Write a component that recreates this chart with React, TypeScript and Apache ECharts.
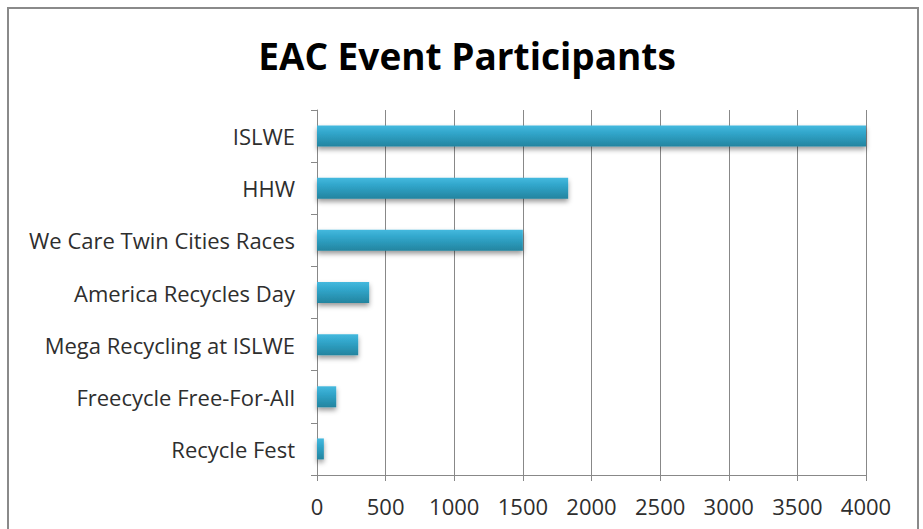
import React, { useEffect, useRef } from "react";
import * as echarts from "echarts";

const categories = [
  "ISLWE",
  "HHW",
  "We Care Twin Cities Races",
  "America Recycles Day",
  "Mega Recycling at ISLWE",
  "Freecycle Free-For-All",
  "Recycle Fest",
];
const participants = [4000, 1830, 1500, 380, 300, 140, 50];
const chartTitle = "EAC Event Participants";
const xMin = 0;
const xMax = 4000;
const xStep = 500;

export default function App() {
  const ref = useRef<HTMLDivElement>(null);
  useEffect(() => {
    document.body.style.margin = "0";
    const chart = echarts.init(ref.current!, null, { renderer: "svg" });
    const gray = "#888888";
    chart.setOption({
      animation: false,
      backgroundColor: "#ffffff",
      title: {
        text: chartTitle,
        left: 462,
        textAlign: "center",
        top: 32,
        textStyle: {
          fontFamily: "Open Sans",
          fontWeight: "bold",
          fontSize: 37,
          color: "#000000",
        },
      },
      graphic: [
        {
          type: "rect",
          shape: { x: 8, y: 8, width: 910, height: 540 },
          style: { fill: "none", stroke: "#8a8a8a", lineWidth: 2 },
          silent: true,
        },
      ],
      grid: { left: 317, right: 57, top: 110, bottom: 54, containLabel: false },
      xAxis: {
        type: "value",
        min: xMin,
        max: xMax,
        interval: xStep,
        axisLine: { show: true, lineStyle: { color: gray, width: 1 } },
        axisTick: { show: true, length: 6, lineStyle: { color: gray } },
        splitLine: { show: true, lineStyle: { color: gray, width: 1 } },
        axisLabel: {
          margin: 20,
          fontFamily: "Open Sans",
          fontSize: 22,
          color: "#2e2e2e",
          formatter: (v: number) => String(v),
        },
      },
      yAxis: {
        type: "category",
        data: categories,
        inverse: true,
        axisLine: { show: true, lineStyle: { color: gray, width: 1 } },
        axisTick: { show: true, length: 6, lineStyle: { color: gray } },
        axisLabel: {
          margin: 22,
          fontFamily: "Open Sans",
          fontSize: 22,
          color: "#2e2e2e",
        },
      },
      series: [
        {
          type: "bar",
          data: participants,
          barWidth: 21,
          itemStyle: {
            color: new echarts.graphic.LinearGradient(0, 0, 0, 1, [
              { offset: 0, color: "#45b9de" },
              { offset: 0.35, color: "#31a6cb" },
              { offset: 1, color: "#23849f" },
            ]),
            shadowColor: "rgba(0,0,0,0.4)",
            shadowBlur: 5,
            shadowOffsetY: 3,
          },
        },
      ],
    });
    return () => chart.dispose();
  }, []);
  return <div ref={ref} style={{ width: 923, height: 529 }} />;
}
